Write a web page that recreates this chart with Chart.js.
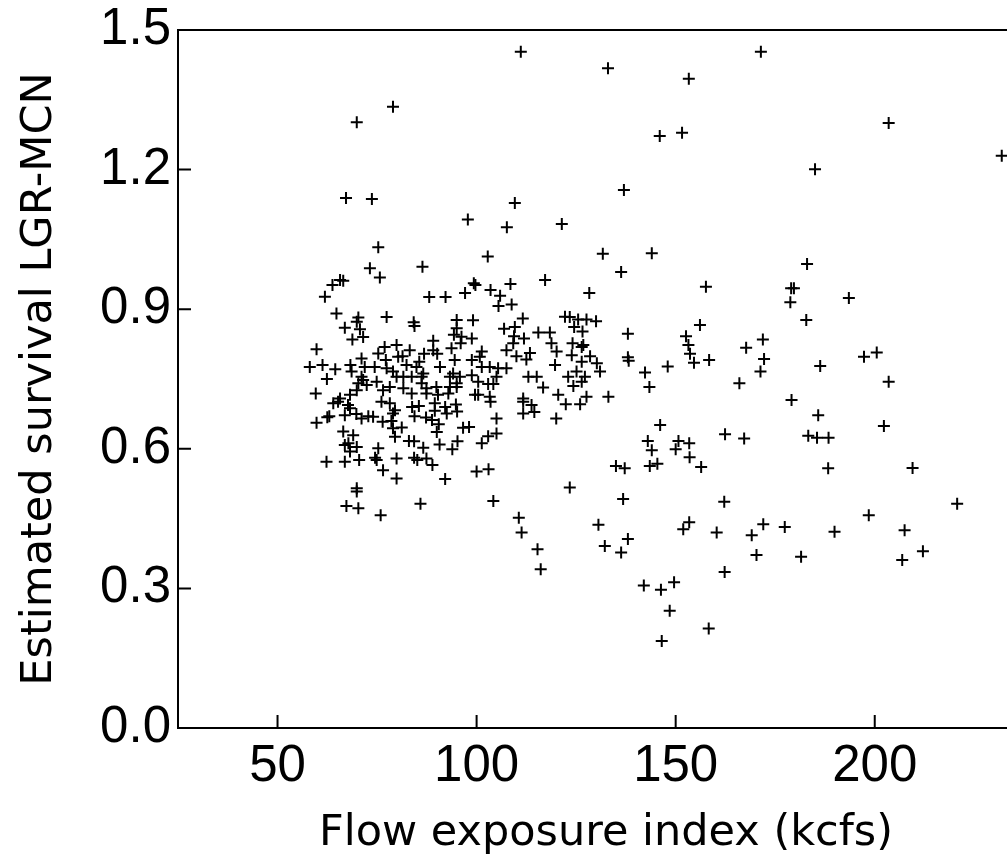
<!DOCTYPE html>
<html>
<head>
<meta charset="utf-8">
<script src="https://cdn.jsdelivr.net/npm/chart.js@4"></script>
<style>
  html, body { margin: 0; padding: 0; background: #fff; overflow: hidden; }
  #wrap { width: 1050px; height: 863px; }
</style>
</head>
<body>
<div id="wrap"><canvas id="c"></canvas></div>
<script>
// flow exposure index (kcfs) and estimated survival
const flowX = [
  111.1, 133.0, 171.4, 203.5, 185.0, 231.9, 153.3, 79.0, 69.9, 146.0, 151.6, 67.2, 73.7, 109.6, 107.6, 97.8, 121.4, 137.0, 75.3, 73.2, 75.7,
  144.0, 136.3, 183.0, 157.6, 179.0, 179.7, 178.8, 193.5, 182.8, 156.1, 138.0,
  152.6, 153.2, 153.6, 154.6, 158.4, 171.9, 167.7, 172.2, 171.3, 166.0, 138.0, 138.2,
  142.3, 148.0, 143.4, 186.3, 197.3, 200.5, 203.5, 179.1, 185.8, 202.3, 183.3, 185.5, 188.4,
  188.3, 209.5, 220.7, 146.1, 162.4, 167.2, 143.0, 144.0, 150.7, 153.4, 150.0, 153.5,
  143.5, 145.4, 156.4, 137.2, 136.8, 162.2, 198.5, 207.5, 212.1, 206.9,
  189.9, 181.5, 177.4, 172.0, 169.1, 170.3, 160.3, 162.3, 153.4, 151.9, 138.0, 136.3,
  142.0, 146.3, 149.6, 148.5, 158.3, 146.5,
  105.0, 120.0, 111.7, 114.5, 113.8, 111.7, 122.4, 126.0, 103.5,
  98.1, 96.6, 105.0, 102.9, 101.3, 95.2, 93.9, 90.7, 90.0, 90.5, 86.6, 83.0, 84.3, 81.2,
  84.4, 87.3, 88.8, 83.8, 85.5, 89.5, 92.1, 94.8, 95.1, 92.5, 89.5,
  84.3, 85.1, 87.4, 88.9, 92.1, 100.0, 103.0, 85.9, 104.2, 110.6, 111.3, 115.3, 116.1,
  123.4, 130.6, 132.2, 135.0,
  86.4, 102.8, 131.7, 117.2, 128.3, 88.1, 92.2, 97.1, 99.3, 99.7, 103.5, 105.9, 108.5, 105.5, 108.8,
  84.2, 84.4, 95.0, 95.0, 94.3, 99.1, 96.2, 98.8, 96.0, 89.1,
  111.6, 106.9, 109.6, 109.4, 111.9, 109.2, 115.5, 118.4, 118.8,
  122.2, 123.4, 125.5, 127.6, 130.0, 124.5, 126.6, 124.1, 126.4, 126.8,
  107.5, 110.0, 113.4, 112.5, 120.1, 123.9, 128.5, 119.7, 126.4, 130.2, 131.0,
  101.3, 100.8, 98.8, 94.5, 93.7, 89.1, 90.1, 90.8, 86.8, 83.2, 81.4, 85.6,
  82.4, 84.9, 86.6, 86.2, 93.3, 95.8, 95.0, 98.8, 100.4,
  101.3, 103.3, 105.4, 107.5, 105.0, 102.9, 104.2, 113.0, 115.1, 116.7,
  123.0, 125.1, 127.2, 124.3, 126.4, 127.6, 133.1, 120.5,
  81.6, 83.7, 86.2, 87.4, 89.9, 81.6, 83.7, 87.4, 90.3, 92.9, 93.3, 95.0, 94.1,
  99.6, 100.4, 103.3, 111.7,
  65.7, 66.5, 63.8, 61.9, 64.8, 70.3, 69.9, 70.7, 66.9, 77.4, 68.8, 71.5, 59.8,
  58.1, 61.3, 64.5, 62.4, 59.6, 68.3, 68.6, 71.9, 71.1, 74.4,
  75.3, 76.9, 77.2, 79.9, 80.3, 71.1, 70.3, 72.4, 71.5, 74.9, 76.5, 78.2, 79.9, 77.4, 79.0,
  65.7, 68.2, 69.9,
  59.8, 62.5, 63.0, 66.9, 69.8, 71.1, 72.8, 74.0, 76.4, 78.6, 79.0,
  64.0, 65.2, 67.7, 68.2, 76.1, 78.2, 79.5, 79.0, 79.5,
  66.5, 69.0, 67.8, 66.9, 69.9, 68.2, 62.3, 66.9, 70.5,
  74.5, 74.9, 75.3, 76.5, 79.9, 79.9, 69.9, 69.9, 67.3, 70.3, 75.9
];
const survivalY = [
  1.453, 1.418, 1.453, 1.300, 1.201, 1.230, 1.395, 1.335, 1.302, 1.272, 1.279, 1.139, 1.137, 1.128, 1.076, 1.093, 1.083, 1.156, 1.033, 0.988, 0.968,
  1.020, 0.980, 0.997, 0.948, 0.945, 0.945, 0.915, 0.924, 0.877, 0.866, 0.847,
  0.842, 0.823, 0.804, 0.785, 0.791, 0.835, 0.817, 0.793, 0.766, 0.741, 0.797, 0.789,
  0.764, 0.777, 0.733, 0.778, 0.798, 0.807, 0.744, 0.705, 0.672, 0.649, 0.628, 0.624, 0.624,
  0.558, 0.559, 0.482, 0.651, 0.631, 0.622, 0.617, 0.597, 0.617, 0.612, 0.599, 0.582,
  0.563, 0.568, 0.561, 0.558, 0.492, 0.486, 0.457, 0.425, 0.380, 0.361,
  0.422, 0.368, 0.432, 0.438, 0.414, 0.372, 0.420, 0.335, 0.442, 0.427, 0.406, 0.377,
  0.306, 0.297, 0.313, 0.252, 0.214, 0.187,
  0.665, 0.665, 0.676, 0.679, 0.694, 0.701, 0.696, 0.696, 0.701,
  0.647, 0.645, 0.633, 0.627, 0.612, 0.616, 0.599, 0.609, 0.636, 0.653, 0.602, 0.617, 0.616, 0.646,
  0.670, 0.667, 0.662, 0.690, 0.692, 0.698, 0.690, 0.695, 0.680, 0.676, 0.682,
  0.581, 0.576, 0.579, 0.565, 0.535, 0.551, 0.556, 0.482, 0.488, 0.452, 0.420, 0.384, 0.341,
  0.517, 0.437, 0.391, 0.563,
  0.991, 1.013, 1.019, 0.963, 0.935, 0.926, 0.926, 0.935, 0.956, 0.952, 0.941, 0.929, 0.954, 0.907, 0.910,
  0.872, 0.864, 0.877, 0.859, 0.845, 0.876, 0.841, 0.837, 0.827, 0.832,
  0.880, 0.858, 0.862, 0.842, 0.837, 0.827, 0.850, 0.850, 0.827,
  0.884, 0.883, 0.878, 0.878, 0.874, 0.862, 0.852, 0.827, 0.819, 0.823,
  0.812, 0.799, 0.806, 0.792, 0.809, 0.801, 0.799, 0.780, 0.787, 0.784, 0.766,
  0.809, 0.798, 0.791, 0.791, 0.816, 0.812, 0.804, 0.776, 0.804, 0.812, 0.799, 0.787,
  0.780, 0.776, 0.762, 0.755, 0.755, 0.755, 0.741, 0.758, 0.744,
  0.776, 0.776, 0.773, 0.773, 0.755, 0.739, 0.739, 0.755, 0.755, 0.732,
  0.755, 0.766, 0.755, 0.735, 0.744, 0.712, 0.712, 0.716,
  0.755, 0.755, 0.741, 0.730, 0.733, 0.730, 0.719, 0.719, 0.716, 0.719, 0.733, 0.733, 0.762,
  0.716, 0.716, 0.712, 0.708,
  0.963, 0.961, 0.952, 0.927, 0.891, 0.882, 0.873, 0.857, 0.860, 0.883, 0.835, 0.840, 0.814,
  0.776, 0.780, 0.771, 0.750, 0.719, 0.780, 0.766, 0.776, 0.794, 0.776,
  0.805, 0.819, 0.791, 0.823, 0.798, 0.755, 0.741, 0.737, 0.748, 0.744, 0.726, 0.733, 0.755, 0.773, 0.766,
  0.708, 0.716, 0.726,
  0.656, 0.668, 0.670, 0.672, 0.675, 0.665, 0.670, 0.669, 0.658, 0.660, 0.676,
  0.698, 0.701, 0.694, 0.687, 0.701, 0.698, 0.683, 0.644, 0.626,
  0.637, 0.629, 0.612, 0.608, 0.604, 0.594, 0.572, 0.572, 0.576,
  0.581, 0.576, 0.601, 0.554, 0.579, 0.536, 0.515, 0.508, 0.477, 0.472, 0.457
];
const xTicks = [50, 100, 150, 200];
const yTicks = [0.0, 0.3, 0.6, 0.9, 1.2, 1.5];

const points = flowX.map((v, i) => ({x: v, y: survivalY[i]}));

Chart.defaults.font.family = "'Liberation Sans', Arial, sans-serif";
Chart.defaults.color = '#000';

// inward tick marks and the top frame line
const frame = {
  id: 'frame',
  afterDatasetsDraw(chart) {
    const ctx = chart.ctx, a = chart.chartArea;
    const sx = chart.scales.x, sy = chart.scales.y;
    ctx.save();
    ctx.strokeStyle = '#000';
    ctx.lineWidth = 2;
    ctx.beginPath();
    ctx.moveTo(a.left, a.top);
    ctx.lineTo(a.right, a.top);
    xTicks.forEach(v => {
      const p = sx.getPixelForValue(v);
      ctx.moveTo(p, a.bottom);
      ctx.lineTo(p, a.bottom - 13);
    });
    yTicks.forEach(v => {
      const p = sy.getPixelForValue(v);
      ctx.moveTo(a.left, p);
      ctx.lineTo(a.left + 13, p);
    });
    ctx.stroke();
    ctx.restore();
  }
};

const titleFont = { family: "'DejaVu Sans', sans-serif", size: 43 };

new Chart(document.getElementById('c'), {
  type: 'scatter',
  data: {
    datasets: [{
      data: points,
      pointStyle: 'cross',
      pointRadius: 6,
      pointHoverRadius: 6,
      borderColor: '#000',
      backgroundColor: '#000',
      pointBorderWidth: 2
    }]
  },
  options: {
    responsive: true,
    maintainAspectRatio: false,
    animation: false,
    events: [],
    layout: { padding: { left: 8, top: 30, right: 16, bottom: 0 } },
    plugins: { legend: { display: false }, tooltip: { enabled: false } },
    scales: {
      x: {
        type: 'linear',
        min: 25, max: 240,
        afterBuildTicks: s => { s.ticks = xTicks.map(v => ({value: v})); },
        afterFit: s => { s.height = 135; },
        grid: { display: false, drawTicks: false },
        border: { display: true, color: '#000', width: 2 },
        ticks: { font: { size: 51 }, padding: 8, maxRotation: 0 },
        title: { display: true, text: 'Flow exposure index (kcfs)', font: titleFont, padding: { top: 0, bottom: 3 } }
      },
      y: {
        type: 'linear',
        min: 0, max: 1.5,
        afterBuildTicks: s => { s.ticks = yTicks.map(v => ({value: v})); },
        afterFit: s => { s.width = 170; },
        grid: { display: false, drawTicks: false },
        border: { display: true, color: '#000', width: 2 },
        ticks: { font: { size: 51, lineHeight: 0.9 }, padding: 7, callback: v => v.toFixed(1) },
        title: { display: true, text: 'Estimated survival LGR-MCN', font: titleFont, padding: { top: 6, bottom: 0 } }
      }
    }
  },
  plugins: [frame]
});
</script>
</body>
</html>
